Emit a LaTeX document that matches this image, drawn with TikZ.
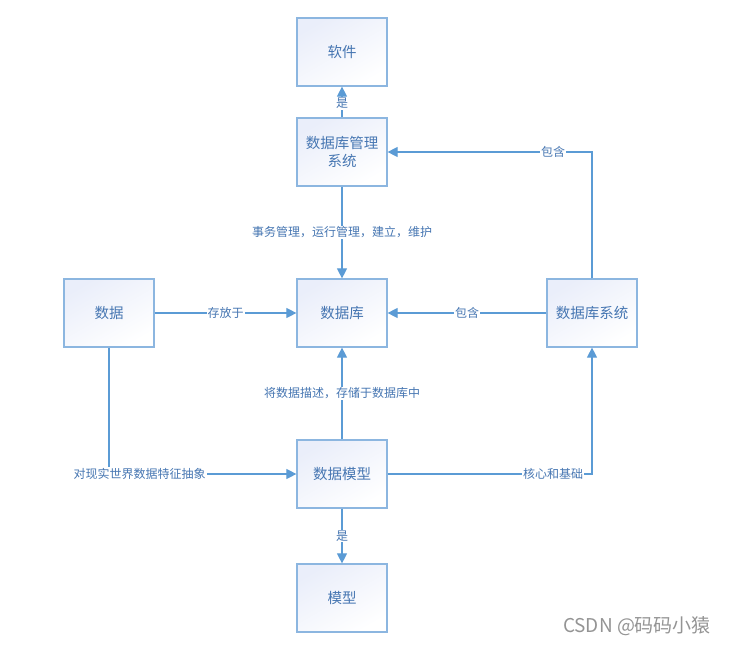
\documentclass[tikz,border=0pt]{standalone}
\usepackage{fontspec}
\setmainfont{Noto Sans CJK SC}
\usetikzlibrary{arrows.meta,calc}
\definecolor{linec}{RGB}{91,155,213}
\definecolor{borderc}{RGB}{140,182,224}
\definecolor{textc}{RGB}{70,118,178}
\definecolor{shadec}{RGB}{234,238,250}
\begin{document}
\begin{tikzpicture}[x=1pt,y=-1pt,
  box/.style={draw=borderc,line width=1.2pt,minimum width=90pt,minimum height=68pt,inner sep=2pt,
    top color=shadec,bottom color=white,shading angle=30,text=textc,font=\fontsize{14.5}{18}\selectfont,align=center},
  conn/.style={draw=linec,line width=1.1pt,-{Triangle[length=10pt,width=10pt]}},
  lbl/.style={fill=white,text=textc,font=\fontsize{12}{14}\selectfont,inner sep=1pt}]
\useasboundingbox (0,0) rectangle (729,645);
\node[box] (sw) at (342,52) {软件};
\node[box] (dbms) at (342,152) {数据库管理\\系统};
\node[box] (db) at (342,313) {数据库};
\node[box] (data) at (109,313) {数据};
\node[box] (dbs) at (592,313) {数据库系统};
\node[box] (dm) at (342,474) {数据模型};
\node[box] (model) at (342,598) {模型};
\draw[conn] (dbms) -- node[lbl,pos=0.45] {是} (sw);
\draw[conn] (dbms) -- node[lbl] {事务管理，运行管理，建立，维护} (db);
\draw[conn] (data) -- node[lbl] {存放于} (db);
\draw[conn] (dbs) -- node[lbl] {包含} (db);
\draw[conn] (dbs.north) |- node[lbl,pos=0.595] {包含} (dbms.east);
\draw[conn] (dm) -- node[lbl] {将数据描述，存储于数据库中} (db);
\draw[conn] (data.south) |- node[lbl,pos=0.582] {对现实世界数据特征抽象} (dm.west);
\draw[conn] (dm.east) -| node[lbl,pos=0.405] {核心和基础} (dbs.south);
\draw[conn] (dm) -- node[lbl] {是} (model);
\node[text=black!42,font=\fontsize{19}{21}\selectfont] (wm) at (637,626) {CSDN @码码小猿};
\end{tikzpicture}
\end{document}
